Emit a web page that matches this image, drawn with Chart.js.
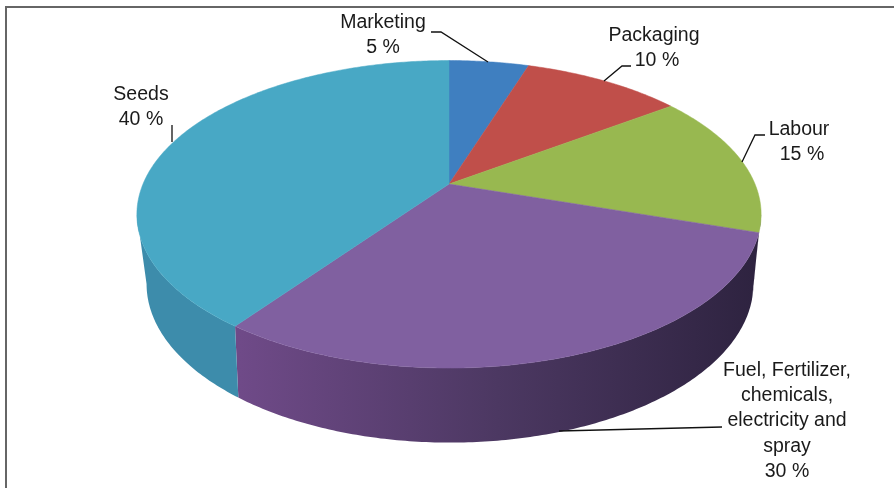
<!DOCTYPE html>
<html>
<head>
<meta charset="utf-8">
<title>Cost shares</title>
<script src="https://cdn.jsdelivr.net/npm/chart.js@4"></script>
<style>
  html, body { margin: 0; padding: 0; background: #fff; overflow: hidden; }
  #frame { position: absolute; left: 5px; top: 6px; right: 0; bottom: 0; border-left: 2px solid #666; border-top: 2px solid #666; }
  #pie { position: absolute; left: 0; top: 0; }
</style>
</head>
<body>
<div id="frame"></div>
<canvas id="pie" width="894" height="488"></canvas>
<script>
const categories = ["Marketing", "Packaging", "Labour", "Fuel, Fertilizer, chemicals, electricity and spray", "Seeds"];
const shares = [5, 10, 15, 30, 40];
const topColors = ["#3f7fc0", "#c04f4a", "#98b850", "#8060a0", "#48a8c5"];

// side wall colours, left to right across each slice
const sideColors = [
  ["#2f5f90", "#2f5f90"],
  ["#8f3a37", "#8f3a37"],
  ["#2e2340", "#2e2340"],
  ["#6f4a88", "#4c3862", "#2e2340"],
  ["#3d8cab", "#3d8cab"],
];

// wrapped label text, one entry per slice
const labelLines = [
  ["Marketing", "5 %"],
  ["Packaging", "10 %"],
  ["Labour", "15 %"],
  ["Fuel, Fertilizer,", "chemicals,", "electricity and", "spray", "30 %"],
  ["Seeds", "40 %"],
];

// label layout: anchor x for each line, first baseline
const labelPos = [
  { x: [383, 383], y: 28 },
  { x: [654, 657], y: 41 },
  { x: [799, 802], y: 135 },
  { x: [787, 787, 787, 787, 787], y: 376 },
  { x: [141, 141], y: 100 },
];

const leaders = [
  [[431, 32], [441, 32], [488, 62]],
  [[631, 66], [622, 66], [604, 81]],
  [[765, 135], [755, 135], [742, 162]],
  [[722, 427], [559, 431]],
  [[172, 125], [172, 142]],
];

// perspective of the two discs: far edge is squeezed, near edge is stretched
const topDisc = { cx: 449, cy: 184, a: 306, b: 147.8, k: 0.197 };
const baseDisc = { cx: 450, cy: 249, a: 296, b: 151, k: 0.22 };

function project(angle, disc) {
  const x = Math.cos(angle);
  const y = Math.sin(angle);
  const w = 1 - disc.k * y;
  return [disc.cx + disc.a * x / w, disc.cy + disc.b * y / w];
}

function arcPoints(from, to, disc) {
  const steps = Math.ceil((to - from) * 90);
  const pts = [];
  for (let s = 0; s <= steps; s++) {
    pts.push(project(from + (to - from) * s / steps, disc));
  }
  return pts;
}

// the part of a disc's rim that faces the viewer ends where x is widest
function visibleRim(arc, disc) {
  const edge = Math.asin(disc.k);
  const from = Math.max(arc.startAngle, edge);
  const to = Math.min(arc.endAngle, Math.PI - edge);
  return to > from ? arcPoints(from, to, disc) : [];
}

function fillPath(ctx, pts) {
  ctx.beginPath();
  pts.forEach((p, n) => (n ? ctx.lineTo(p[0], p[1]) : ctx.moveTo(p[0], p[1])));
  ctx.closePath();
  ctx.fill();
}

function drawSides(ctx, arcs) {
  arcs.forEach((arc, i) => {
    const upper = visibleRim(arc, topDisc);
    const lower = visibleRim(arc, baseDisc);
    if (!upper.length || !lower.length) return;
    const grad = ctx.createLinearGradient(240, 0, 755, 0);
    const stops = sideColors[i];
    stops.forEach((c, j) => grad.addColorStop(j / (stops.length - 1), c));
    ctx.fillStyle = grad;
    fillPath(ctx, upper.concat(lower.reverse()));
  });
}

function drawTop(ctx, arcs) {
  arcs.forEach((arc, i) => {
    ctx.fillStyle = topColors[i];
    ctx.strokeStyle = topColors[i];
    ctx.lineWidth = 0.5;
    fillPath(ctx, [[topDisc.cx, topDisc.cy]].concat(arcPoints(arc.startAngle, arc.endAngle, topDisc)));
    ctx.stroke();
  });
}

// replaces the flat pie with the tilted disc, using the arc angles the chart worked out
const tiltedDisc = {
  id: "tiltedDisc",
  beforeDatasetDraw(chart, args) {
    const ctx = chart.ctx;
    const arcs = args.meta.data;
    ctx.save();
    drawSides(ctx, arcs);
    drawTop(ctx, arcs);
    ctx.restore();
    return false;
  },
  afterDraw(chart) {
    const ctx = chart.ctx;
    ctx.save();
    ctx.strokeStyle = "#111";
    ctx.lineWidth = 1.3;
    leaders.forEach((pts) => {
      ctx.beginPath();
      pts.forEach((p, i) => (i ? ctx.lineTo(p[0], p[1]) : ctx.moveTo(p[0], p[1])));
      ctx.stroke();
    });
    ctx.fillStyle = "#1a1a1a";
    ctx.font = '19.5px "Liberation Sans", Arial, sans-serif';
    ctx.textAlign = "center";
    labelLines.forEach((lines, i) => {
      lines.forEach((line, j) => {
        ctx.fillText(line, labelPos[i].x[j], labelPos[i].y + j * 25.2);
      });
    });
    ctx.restore();
  },
};

new Chart(document.getElementById("pie"), {
  type: "pie",
  data: {
    labels: categories,
    datasets: [{ data: shares, backgroundColor: topColors, borderWidth: 0 }],
  },
  options: {
    responsive: false,
    animation: false,
    plugins: { legend: { display: false }, tooltip: { enabled: false } },
  },
  plugins: [tiltedDisc],
});
</script>
</body>
</html>
